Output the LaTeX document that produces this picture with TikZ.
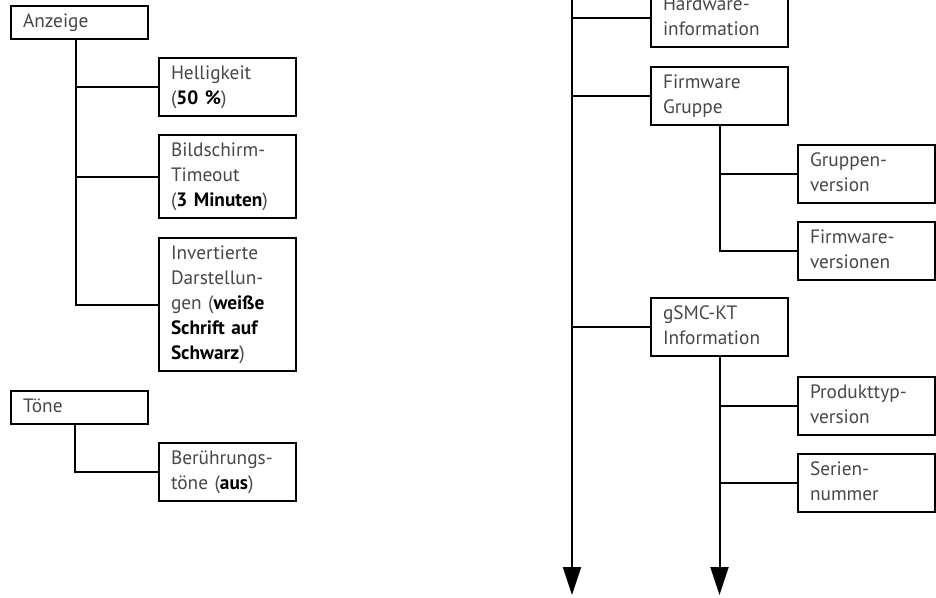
\documentclass[tikz,border=0pt]{standalone}
\usepackage{fontspec}
\setmainfont{PT Sans}
\usetikzlibrary{arrows.meta}

\newcommand{\val}[1]{\textbf{\color{black}#1}}

\begin{document}
\begin{tikzpicture}[x=0.75pt, y=-0.75pt,
  menu/.style={draw, line width=1.5pt, anchor=north west, align=left,
    text width=84.75pt, inner xsep=9pt, inner ysep=3pt,
    font=\fontsize{14.5pt}{18.75pt}\selectfont, text=black!72,
    execute at begin node=\strut, execute at end node=\strut},
  link/.style={line width=1.5pt},
  arr/.style={line width=1.5pt, -{Triangle[length=21pt, width=13.5pt]}}]

\useasboundingbox (0,0) rectangle (936,597);
\clip (0,0) rectangle (936,597);

%%%%%%%%%%%%%%%%%%%%%%%%%%%%%%% Anzeige
\node[menu] (anz) at (10,5) {Anzeige};
\node[menu] (hell) at (158,57) {Helligkeit\\(\val{50 \%})};
\node[menu] (bild) at (158,134) {Bildschirm-\\Timeout\\(\val{3 Minuten})};
\node[menu] (inv) at (158,237) {Invertierte\\Darstellun-\\gen (\val{weiße}\\\val{Schrift auf}\\\val{Schwarz})};

\draw[link] (anz.south) ++(-4,0) coordinate (ta) |- (inv.west);
\draw[link] (ta |- hell.west) -- (hell.west);
\draw[link] (ta |- bild.west) -- (bild.west);

%%%%%%%%%%%%%%%%%%%%%%%%%%%%%%% Toene
\node[menu] (toene) at (10,390) {Töne};
\node[menu] (ber) at (158,442) {Berührungs-\\töne (\val{aus})};

\draw[link] (toene.south) ++(-5,0) |- (ber.west);

%%%%%%%%%%%%%%%%%%%%%%%%%%%%%%% right column
\coordinate (tb) at (572,-20);
\coordinate (tbend) at (572,595);

\node[menu] (hw) at (650,-12) {Hardware-\\information};
\node[menu] (fg) at (650,66) {Firmware\\Gruppe};
\node[menu] (grv) at (797,144) {Gruppen-\\version};
\node[menu] (fwv) at (797,221) {Firmware-\\versionen};
\node[menu] (gsmc) at (650,297) {gSMC-KT\\Information};
\node[menu] (prod) at (797,376) {Produkttyp-\\version};
\node[menu] (ser) at (797,453) {Serien-\\nummer};

\draw[arr] (tb) -- (tbend);
\draw[link] (tb |- hw.west) -- (hw.west);
\draw[link] (tb |- fg.west) -- (fg.west);
\draw[link] (tb |- gsmc.west) -- (gsmc.west);

\draw[link] (fg.south) |- (fwv.west);
\draw[link] (fg.south |- grv.west) -- (grv.west);

\draw[arr] (gsmc.south) -- (gsmc.south |- tbend);
\draw[link] (gsmc.south |- prod.west) -- (prod.west);
\draw[link] (gsmc.south |- ser.west) -- (ser.west);

\end{tikzpicture}
\end{document}
